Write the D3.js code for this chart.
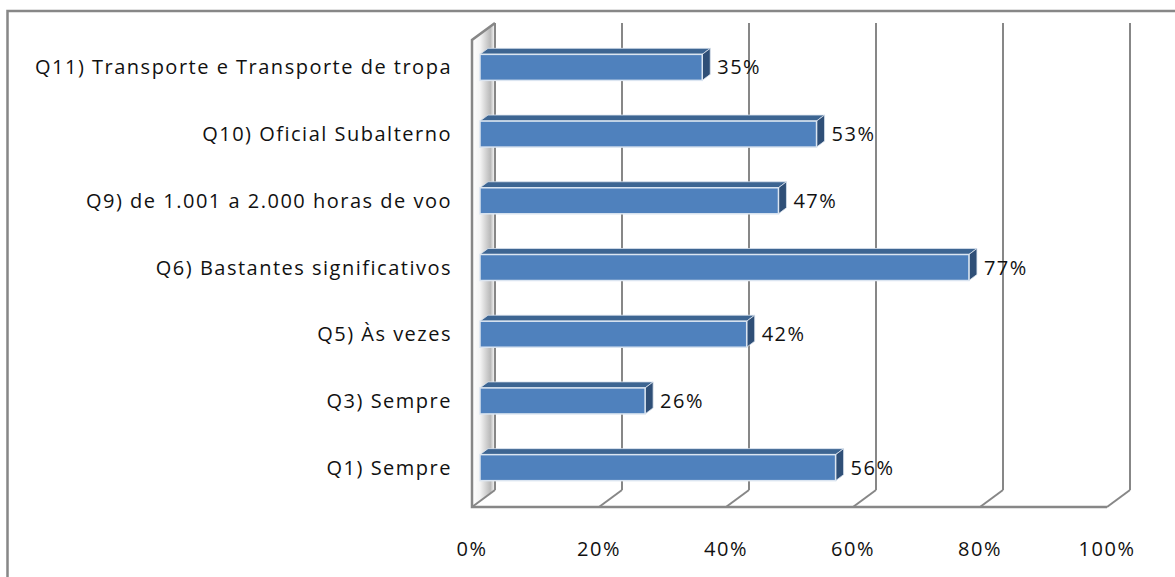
<!DOCTYPE html>
<html>
<head>
<meta charset="utf-8">
<script src="https://cdn.jsdelivr.net/npm/d3@7"></script>
<style>
  body { margin: 0; background: #fff; }
  text { font-family: "Open Sans", sans-serif; font-size: 20px; fill: #111; letter-spacing: 1.5px; }
</style>
</head>
<body>
<svg id="chart"></svg>
<script>
// categories top to bottom, as in the picture
var categories = ["Q11) Transporte e Transporte de tropa", "Q10) Oficial Subalterno", "Q9) de 1.001 a 2.000 horas de voo",
                  "Q6) Bastantes significativos", "Q5) Às vezes", "Q3) Sempre", "Q1) Sempre"]
var values = [0.35, 0.53, 0.47, 0.77, 0.42, 0.26, 0.56]
var ticks = [0, 0.2, 0.4, 0.6, 0.8, 1]

var width = 1175, height = 577

// front plane of the 3D box
var boxLeft = 472, boxRight = 1107, boxTop = 40, boxBottom = 507
// depth offset of the back wall
var depthX = 23, depthY = -17
// bars sit in the middle of the depth
var barX0 = 8, barY0 = -6, barDX = 8, barDY = -6

var x = d3.scaleLinear().domain([0, 1]).range([boxLeft, boxRight])
var y = d3.scaleBand().domain(categories).range([boxTop, boxBottom]).paddingInner(0.61).paddingOuter(0.305)

var svg = d3.select("#chart")
    .attr("width", width)
    .attr("height", height)

var defs = svg.append("defs")
var wallGrad = defs.append("linearGradient").attr("id", "wall")
wallGrad.append("stop").attr("offset", "0%").attr("stop-color", "#ffffff")
wallGrad.append("stop").attr("offset", "35%").attr("stop-color", "#f4f4f4")
wallGrad.append("stop").attr("offset", "80%").attr("stop-color", "#b9b9b9")
wallGrad.append("stop").attr("offset", "100%").attr("stop-color", "#ffffff")

// outer frame (runs off the right and bottom of the picture)
svg.append("rect")
    .attr("x", 7.5).attr("y", 11)
    .attr("width", width + 20).attr("height", height + 20)
    .attr("fill", "none")
    .attr("stroke", "#878787")
    .attr("stroke-width", 2.5)

var grid = "#878787"

// left wall
svg.append("path")
    .attr("d", d3.line()([[boxLeft, boxTop], [boxLeft + depthX, boxTop + depthY], [boxLeft + depthX, boxBottom + depthY], [boxLeft, boxBottom]]) + "Z")
    .attr("fill", "url(#wall)")

// back gridlines
svg.selectAll(".grid")
    .data(ticks)
  .enter().append("line")
    .attr("class", "grid")
    .attr("x1", function(d) { return x(d) + depthX; })
    .attr("x2", function(d) { return x(d) + depthX; })
    .attr("y1", boxTop + depthY)
    .attr("y2", boxBottom + depthY)
    .attr("stroke", grid)
    .attr("stroke-width", 2)

// floor diagonals
svg.selectAll(".floor")
    .data(ticks)
  .enter().append("line")
    .attr("class", "floor")
    .attr("x1", function(d) { return x(d); })
    .attr("x2", function(d) { return x(d) + depthX; })
    .attr("y1", boxBottom)
    .attr("y2", boxBottom + depthY)
    .attr("stroke", grid)
    .attr("stroke-width", 2)

// front edges of the box
svg.append("path")
    .attr("d", d3.line()([[boxLeft + depthX, boxTop + depthY], [boxLeft, boxTop], [boxLeft, boxBottom], [boxRight, boxBottom]]))
    .attr("fill", "none")
    .attr("stroke", grid)
    .attr("stroke-width", 2.5)

// bars
var bars = svg.selectAll(".bar")
    .data(values)
  .enter().append("g")
    .attr("class", "bar")

bars.append("path")      // top face
    .attr("d", function(d, i) {
      var x0 = x(0) + barX0, x1 = x(d) + barX0, y0 = y(categories[i]) + barY0
      return d3.line()([[x0, y0], [x0 + barDX, y0 + barDY], [x1 + barDX, y0 + barDY], [x1, y0]]) + "Z"
    })
    .attr("fill", "#3d6592")
    .attr("stroke", "#d9e2ee")
    .attr("stroke-width", 0.8)

bars.append("path")      // side face
    .attr("d", function(d, i) {
      var x1 = x(d) + barX0, y0 = y(categories[i]) + barY0, y1 = y0 + y.bandwidth()
      return d3.line()([[x1, y0], [x1 + barDX, y0 + barDY], [x1 + barDX, y1 + barDY], [x1, y1]]) + "Z"
    })
    .attr("fill", "#2f4f77")
    .attr("stroke", "#d9e2ee")
    .attr("stroke-width", 0.8)

bars.append("rect")      // front face
    .attr("x", x(0) + barX0)
    .attr("y", function(d, i) { return y(categories[i]) + barY0; })
    .attr("width", function(d) { return x(d) - x(0); })
    .attr("height", y.bandwidth())
    .attr("fill", "#4f81bd")
    .attr("stroke", "#dbe5f1")
    .attr("stroke-width", 1.5)

// value labels
svg.selectAll(".value")
    .data(values)
  .enter().append("text")
    .attr("class", "value")
    .attr("x", function(d) { return x(d) + barX0 + barDX + 7; })
    .attr("y", function(d, i) { return y(categories[i]) + barY0 + y.bandwidth() / 2; })
    .attr("dy", "0.35em")
    .text(function(d) { return Math.round(d * 100) + "%"; })

// category labels
svg.selectAll(".cat")
    .data(categories)
  .enter().append("text")
    .attr("class", "cat")
    .attr("x", boxLeft - 20)
    .attr("y", function(d) { return y(d) + barY0 + y.bandwidth() / 2; })
    .attr("dy", "0.35em")
    .style("text-anchor", "end")
    .text(function(d) { return d; })

// x tick labels
svg.selectAll(".tick")
    .data(ticks)
  .enter().append("text")
    .attr("class", "tick")
    .attr("x", function(d) { return x(d); })
    .attr("y", 549)
    .attr("dy", "0.35em")
    .style("text-anchor", "middle")
    .text(d3.format(".0%"))
</script>
</body>
</html>
